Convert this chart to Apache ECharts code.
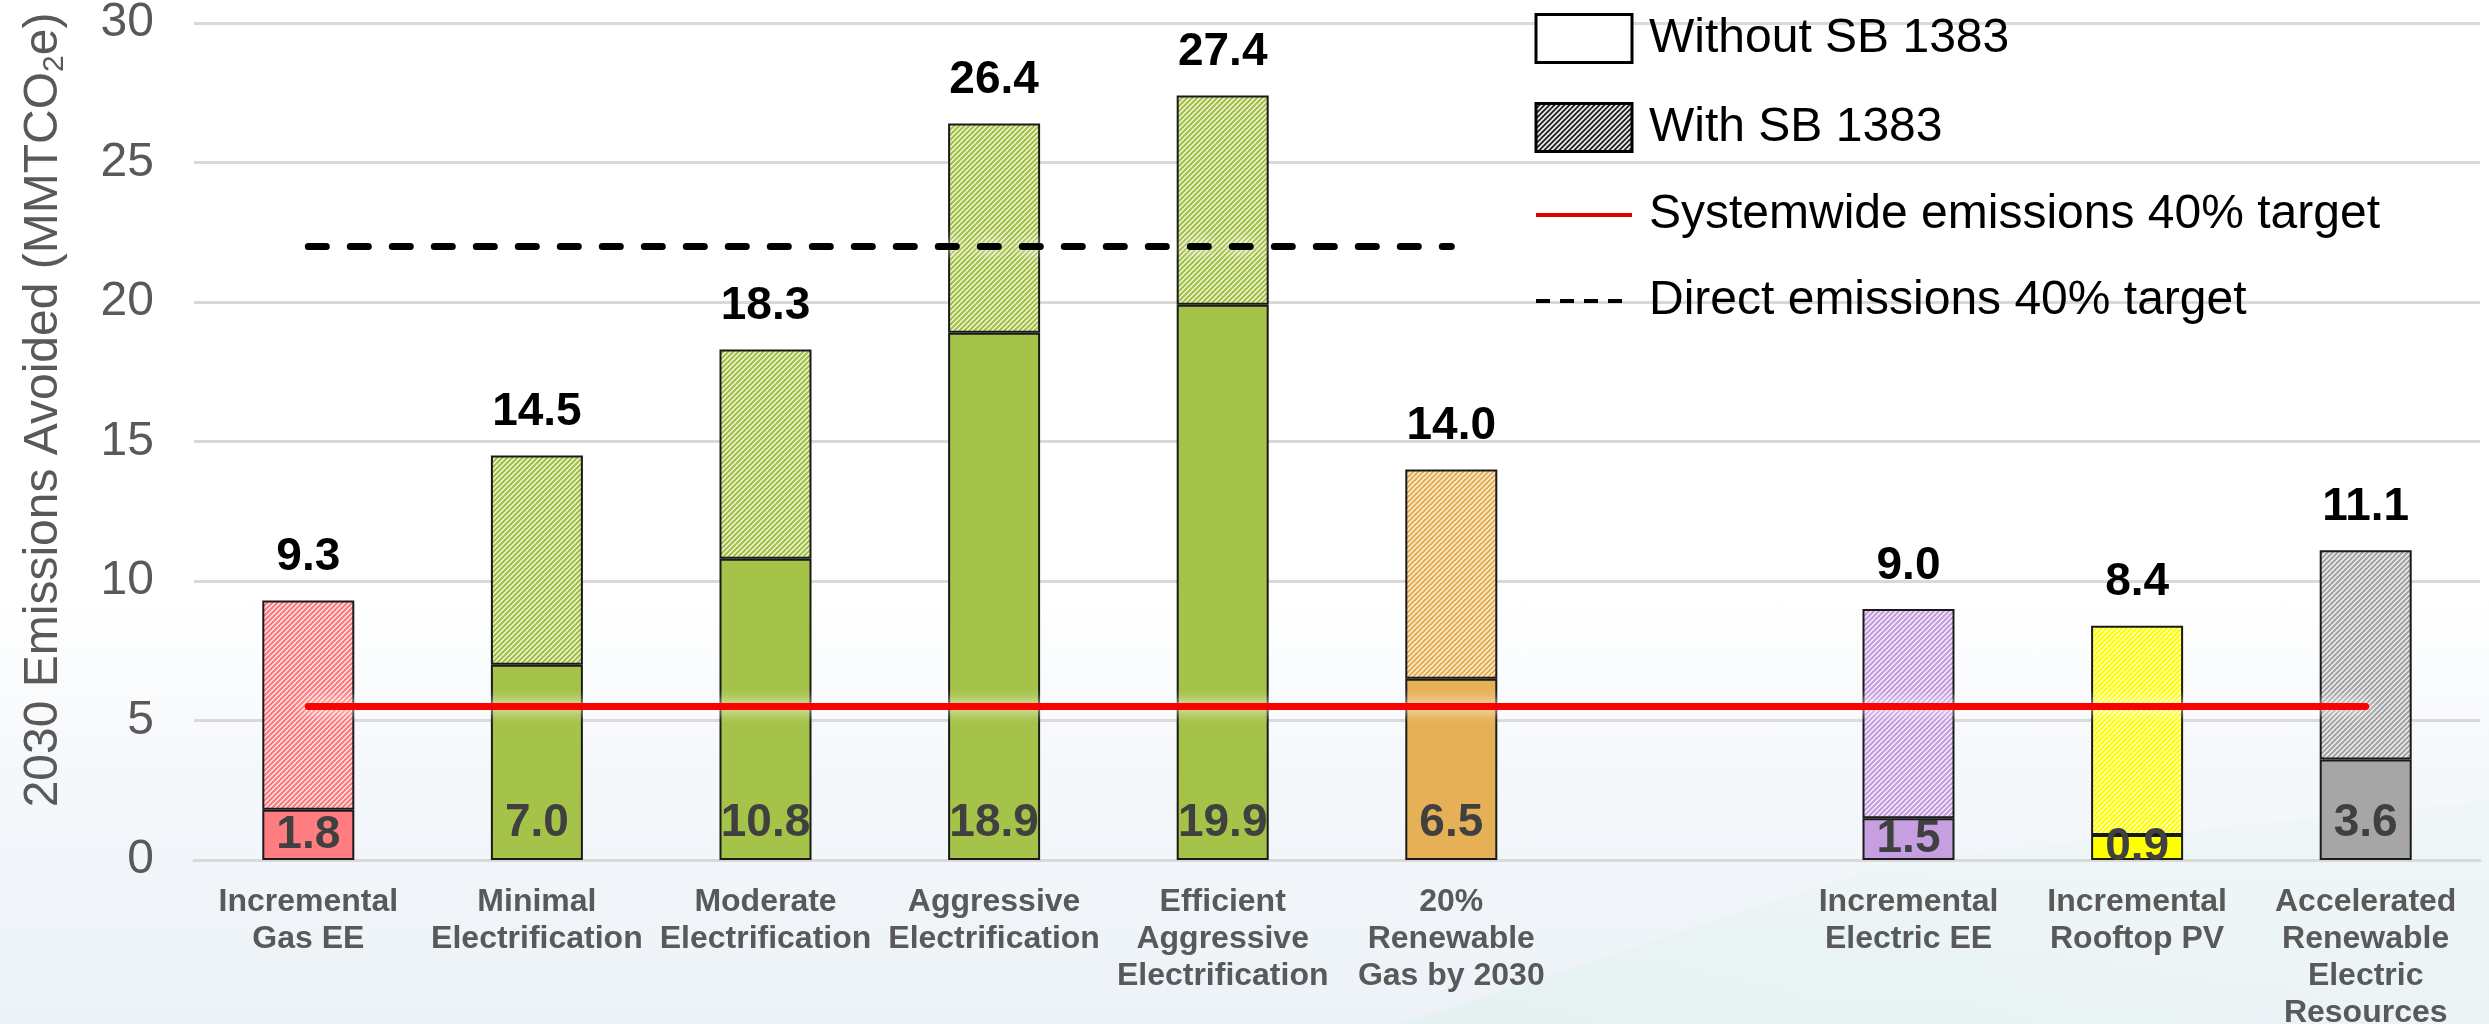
<!DOCTYPE html>
<html>
<head>
<meta charset="utf-8">
<script src="https://cdn.jsdelivr.net/npm/echarts@6/dist/echarts.min.js"></script>
<style>
  html, body { margin: 0; padding: 0; }
  body {
    width: 2489px; height: 1024px; overflow: hidden; position: relative;
    background: linear-gradient(to bottom, #ffffff 0%, #ffffff 58%, #f5f8fb 75%, #ecf2f8 100%);
  }
  #bg {
    position: absolute; left: 0; top: 0; width: 2489px; height: 1024px;
    background: linear-gradient(200deg, rgba(232,245,240,0.3) 55%, rgba(216,238,229,0.85) 100%);
    clip-path: polygon(1400px 1024px, 1900px 860px, 2489px 800px, 2489px 1024px);
  }
  #chart { position: absolute; left: 0; top: 0; width: 2489px; height: 1024px; }
</style>
</head>
<body>
<div id="bg"></div>
<div id="chart"></div>
<script>
const categories = [
  "Incremental\nGas EE",
  "Minimal\nElectrification",
  "Moderate\nElectrification",
  "Aggressive\nElectrification",
  "Efficient\nAggressive\nElectrification",
  "20%\nRenewable\nGas by 2030",
  "",
  "Incremental\nElectric EE",
  "Incremental\nRooftop PV",
  "Accelerated\nRenewable\nElectric\nResources",
];
// MMTCO2e avoided in 2030
const withoutSB1383 = [1.8, 7.0, 10.8, 18.9, 19.9, 6.5, null, 1.5, 0.9, 3.6];
const withSB1383 = [9.3, 14.5, 18.3, 26.4, 27.4, 14.0, null, 9.0, 8.4, 11.1];
const systemwideTarget = 5.5;
const systemwideSpan = [0, 9];
const directTarget = 22.0;
const directSpan = [0, 5];

const barColors = ["#FF7C80", "#A5C249", "#A5C249", "#A5C249", "#A5C249", "#E6B056", null, "#C59FE0", "#FFFF00", "#A6A6A6"];
const FONT = "'Liberation Sans', Arial, sans-serif";

function hatch(color, w) {
  const s = 5;
  const c = document.createElement("canvas");
  c.width = s;
  c.height = s;
  const ctx = c.getContext("2d");
  ctx.fillStyle = "#fff";
  ctx.fillRect(0, 0, s, s);
  ctx.strokeStyle = color;
  ctx.lineWidth = w || 2.4;
  ctx.beginPath();
  ctx.moveTo(-1, s + 1); ctx.lineTo(s + 1, -1);
  ctx.moveTo(-s - 1, s + 1); ctx.lineTo(1, -1);
  ctx.moveTo(-1, 2 * s + 1); ctx.lineTo(s + 1, s - 1);
  ctx.stroke();
  return { image: c, repeat: "repeat" };
}

const chart = echarts.init(document.getElementById("chart"));

const option = {
  animation: false,
  backgroundColor: "transparent",
  textStyle: { fontFamily: FONT },
  grid: { left: 194, right: 9, top: 23, bottom: 164, containLabel: false, outerBoundsMode: "none" },
  legend: {
    orient: "vertical",
    left: 1529,
    top: 8,
    itemWidth: 96,
    itemHeight: 48,
    itemGap: 38,
    selectedMode: false,
    textStyle: { fontSize: 48, lineHeight: 48, color: "#000", fontFamily: FONT, padding: [0, 0, 0, 12] },
    data: [
      { name: "Without SB 1383", icon: "rect", itemStyle: { color: "#fff", borderColor: "#000", borderWidth: 3 } },
      { name: "With SB 1383", icon: "rect", itemStyle: { color: hatch("#000", 1.6), borderColor: "#000", borderWidth: 3 } },
      { name: "Systemwide emissions 40% target", itemStyle: { opacity: 0 }, lineStyle: { width: 4 } },
      { name: "Direct emissions 40% target", itemStyle: { opacity: 0 }, lineStyle: { width: 4, type: [14, 10] } },
    ],
  },
  graphic: [
    {
      type: "text",
      x: 44,
      y: 410,
      rotation: Math.PI / 2,
      style: {
        text: "2030 Emissions Avoided (MMTCO{sub|2}e)",
        font: "48px " + FONT,
        fill: "#595959",
        align: "center",
        verticalAlign: "middle",
        rich: {
          sub: { fontSize: 30, fontFamily: FONT, fill: "#595959", verticalAlign: "bottom", lineHeight: 52 },
        },
      },
    },
  ],
  xAxis: {
    type: "category",
    data: categories,
    axisTick: { show: false },
    axisLine: { lineStyle: { color: "#D9D9D9", width: 3 } },
    axisLabel: {
      interval: 0,
      fontSize: 32,
      fontWeight: "bold",
      color: "#595959",
      lineHeight: 37,
      margin: 24,
      fontFamily: FONT,
    },
  },
  yAxis: {
    type: "value",
    min: 0,
    max: 30,
    interval: 5,
    axisLine: { show: false },
    axisTick: { show: false },
    axisLabel: { fontSize: 48, color: "#595959", margin: 40, fontFamily: FONT },
    splitLine: { lineStyle: { color: "#D9D9D9", width: 3 } },
  },
  series: [
    {
      name: "Without SB 1383",
      type: "bar",
      stack: "total",
      barWidth: 92,
      itemStyle: { color: "#fff", borderColor: "#1a1a1a", borderWidth: 2 },
      label: {
        show: true,
        fontSize: 46,
        fontWeight: "bold",
        color: "#404040",
        distance: 14,
        fontFamily: FONT,
        formatter: (p) => p.value.toFixed(1),
      },
      data: withoutSB1383.map((v, i) =>
        v == null
          ? "-"
          : {
              value: v,
              itemStyle: { color: barColors[i] },
              label: { position: v < 3 ? "inside" : "insideBottom" },
            }
      ),
      z: 2,
    },
    {
      name: "With SB 1383",
      type: "bar",
      stack: "total",
      barWidth: 92,
      itemStyle: { color: "#fff", borderColor: "#1a1a1a", borderWidth: 2 },
      label: {
        show: true,
        position: "top",
        distance: 20,
        fontSize: 46,
        fontWeight: "bold",
        color: "#000",
        fontFamily: FONT,
        formatter: (p) => withSB1383[p.dataIndex].toFixed(1),
      },
      data: withSB1383.map((v, i) =>
        v == null
          ? "-"
          : {
              value: +(v - withoutSB1383[i]).toFixed(2),
              itemStyle: { color: hatch(barColors[i]) },
            }
      ),
      z: 2,
    },
    {
      name: "Systemwide emissions 40% target",
      type: "line",
      symbol: "none",
      data: [],
      color: "#E00000",
      lineStyle: { color: "#E00000", width: 4 },
      z: 5,
      markLine: {
        silent: true,
        symbol: ["none", "none"],
        label: { show: false },
        lineStyle: { color: "#FF0000", width: 7, type: "solid", cap: "round", shadowColor: "#ffffff", shadowBlur: 14 },
        data: [[{ coord: [systemwideSpan[0], systemwideTarget] }, { coord: [systemwideSpan[1], systemwideTarget] }]],
      },
    },
    {
      name: "Direct emissions 40% target",
      type: "line",
      symbol: "none",
      data: [],
      color: "#000",
      lineStyle: { color: "#000", width: 4, type: "dashed" },
      z: 5,
      markLine: {
        silent: true,
        symbol: ["none", "none"],
        label: { show: false },
        lineStyle: { color: "#000", width: 7, type: [18, 24], cap: "round", shadowColor: "#ffffff", shadowBlur: 14 },
        data: [[{ coord: [directSpan[0], directTarget] }, { coord: [directSpan[1], directTarget] }]],
      },
    },
  ],
};

chart.setOption(option);
</script>
</body>
</html>
